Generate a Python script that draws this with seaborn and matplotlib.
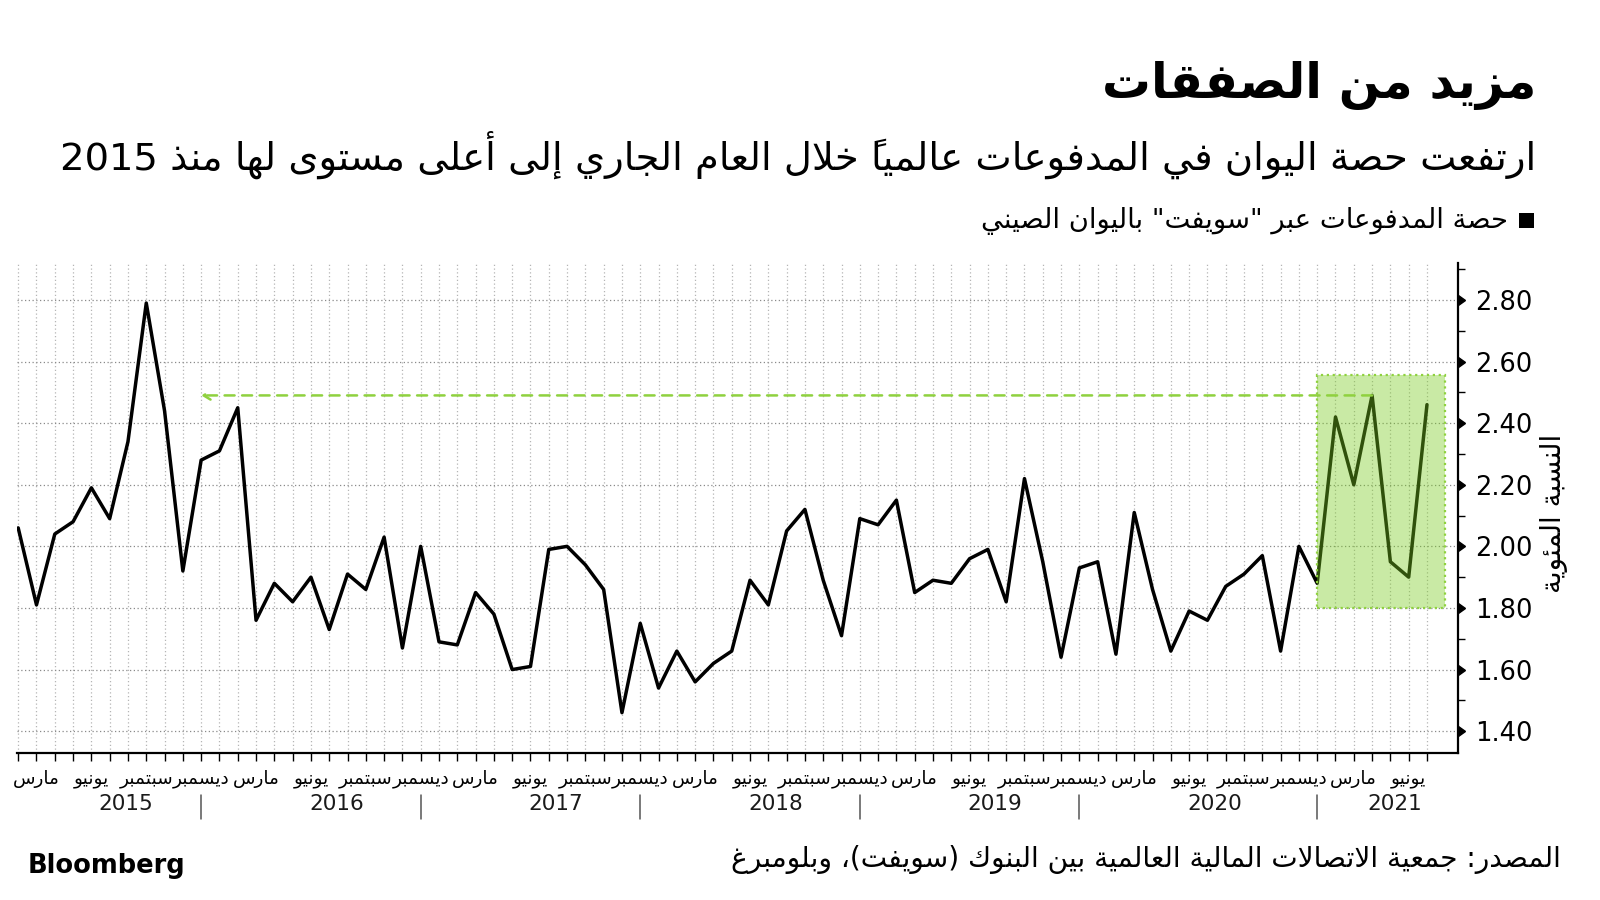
import numpy as np
import pandas as pd
import matplotlib
matplotlib.use("Agg")
import matplotlib.pyplot as plt
import matplotlib.markers as mmarkers
import matplotlib.transforms as mtrans
from matplotlib.patches import Rectangle
import seaborn as sns

# ---------------- data ----------------
# monthly share of CNY in SWIFT payments (%), Jan 2015 .. Jun 2021
share = [2.06, 1.81, 2.04, 2.08, 2.19, 2.09, 2.34, 2.79, 2.44, 1.92, 2.28, 2.31,
         2.45, 1.76, 1.88, 1.82, 1.90, 1.73, 1.91, 1.86, 2.03, 1.67, 2.00, 1.69,
         1.68, 1.85, 1.78, 1.60, 1.61, 1.99, 2.00, 1.94, 1.86, 1.46, 1.75, 1.54,
         1.66, 1.56, 1.62, 1.66, 1.89, 1.81, 2.05, 2.12, 1.89, 1.71, 2.09, 2.07,
         2.15, 1.85, 1.89, 1.88, 1.96, 1.99, 1.82, 2.22, 1.95, 1.64, 1.93, 1.95,
         1.65, 2.11, 1.86, 1.66, 1.79, 1.76, 1.87, 1.91, 1.97, 1.66, 2.00, 1.88,
         2.42, 2.20, 2.49, 1.95, 1.90, 2.46]
first_year = 2015
years = [2015, 2016, 2017, 2018, 2019, 2020, 2021]
quarter_months = [3, 6, 9, 12]
month_names = ["مارس", "يونيو", "سبتمبر", "ديسمبر"]
year_dividers = [10, 22, 34, 46, 58, 71]          # month index of the "|" marks
y_ticks = [1.40, 1.60, 1.80, 2.00, 2.20, 2.40, 2.60, 2.80]
highlight_start, highlight_end = 71, 78            # Dec 2020 .. Jun 2021 box
highlight_low, highlight_high = 1.80, 2.555
peak_idx, ref_idx = 74, 10                         # Mar 2021 level back to end-2015

title = "مزيد من الصفقات"
subtitle = "ارتفعت حصة اليوان في المدفوعات عالمياً خلال العام الجاري إلى أعلى مستوى لها منذ 2015"
legend_label = 'حصة المدفوعات عبر "سويفت" باليوان الصيني'
ylabel = "النسبة المئوية"
source = "المصدر: جمعية الاتصالات المالية العالمية بين البنوك (سويفت)، وبلومبرغ"

# ---------------- minimal Arabic shaping (matplotlib has no text shaping) ----
_JOIN = {}
for cp, first, n in [(0x621, 0xFE80, 1), (0x622, 0xFE81, 2), (0x623, 0xFE83, 2),
                     (0x624, 0xFE85, 2), (0x625, 0xFE87, 2), (0x626, 0xFE89, 4),
                     (0x627, 0xFE8D, 2), (0x628, 0xFE8F, 4), (0x629, 0xFE93, 2),
                     (0x62A, 0xFE95, 4), (0x62B, 0xFE99, 4), (0x62C, 0xFE9D, 4),
                     (0x62D, 0xFEA1, 4), (0x62E, 0xFEA5, 4), (0x62F, 0xFEA9, 2),
                     (0x630, 0xFEAB, 2), (0x631, 0xFEAD, 2), (0x632, 0xFEAF, 2),
                     (0x633, 0xFEB1, 4), (0x634, 0xFEB5, 4), (0x635, 0xFEB9, 4),
                     (0x636, 0xFEBD, 4), (0x637, 0xFEC1, 4), (0x638, 0xFEC5, 4),
                     (0x639, 0xFEC9, 4), (0x63A, 0xFECD, 4), (0x641, 0xFED1, 4),
                     (0x642, 0xFED5, 4), (0x643, 0xFED9, 4), (0x644, 0xFEDD, 4),
                     (0x645, 0xFEE1, 4), (0x646, 0xFEE5, 4), (0x647, 0xFEE9, 4),
                     (0x648, 0xFEED, 2), (0x649, 0xFEEF, 2), (0x64A, 0xFEF1, 4)]:
    _JOIN[chr(cp)] = [chr(first + k) for k in range(n)]
_LAMALEF = {"\u0622": 0xFEF5, "\u0623": 0xFEF7, "\u0625": 0xFEF9, "\u0627": 0xFEFB}
_MIRROR = {"(": ")", ")": "(", "[": "]", "]": "["}


def _is_mark(c):
    return len(c) == 1 and ("\u064B" <= c <= "\u0652" or c == "\u0670")


def ar(text):
    units = []
    i = 0
    while i < len(text):
        c = text[i]
        if c == "\u0644" and i + 1 < len(text) and text[i + 1] in _LAMALEF:
            b = _LAMALEF[text[i + 1]]
            units.append((c + text[i + 1], [chr(b), chr(b + 1)]))
            i += 2
            continue
        units.append((c, _JOIN.get(c)))
        i += 1
    shaped = []
    n = len(units)
    for k, (c, forms) in enumerate(units):
        if forms is None:
            shaped.append(c)
            continue
        p = k - 1
        while p >= 0 and _is_mark(units[p][0]):
            p -= 1
        q = k + 1
        while q < n and _is_mark(units[q][0]):
            q += 1
        prev_join = p >= 0 and units[p][1] is not None and len(units[p][1]) == 4
        next_join = (len(forms) == 4 and q < n and units[q][1] is not None
                     and len(units[q][1]) >= 2)
        if prev_join and next_join:
            f = forms[3]
        elif prev_join:
            f = forms[1] if len(forms) > 1 else forms[0]
        elif next_join:
            f = forms[2]
        else:
            f = forms[0]
        shaped.append(f)
    runs = []
    for ch in shaped:
        ltr = ch.isascii() and (ch.isalnum() or ch in ".%")
        if runs and runs[-1][0] == ltr:
            runs[-1][1].append(ch)
        else:
            runs.append([ltr, [ch]])
    out = []
    for ltr, chs in reversed(runs):
        if ltr:
            out.extend(chs)
        else:
            out.extend(_MIRROR.get(x, x) for x in reversed(chs))
    return "".join(out)


# ---------------- plotting ----------------
sns.set_style("white")
plt.rcParams["font.family"] = ["DejaVu Sans"]
plt.rcParams["text.color"] = "black"
plt.rcParams["xtick.color"] = "black"
plt.rcParams["ytick.color"] = "black"
plt.rcParams["xtick.labelcolor"] = "black"
plt.rcParams["ytick.labelcolor"] = "black"

df = pd.DataFrame({"month": np.arange(len(share)), "share": share})

fig = plt.figure(figsize=(16, 9), dpi=100)
ax = fig.add_axes([0.0108, 0.1633, 0.9005, 0.5445])

sns.lineplot(data=df, x="month", y="share", ax=ax, color="black",
             linewidth=2.5, zorder=2)

GREEN = "#8fd13f"
rect = Rectangle((highlight_start, highlight_low), highlight_end - highlight_start,
                 highlight_high - highlight_low,
                 facecolor=(0.48, 0.80, 0.12, 0.40), edgecolor=GREEN,
                 linestyle=":", linewidth=1.6, zorder=3)
ax.add_patch(rect)

ax.annotate("", xy=(ref_idx, share[peak_idx]), xytext=(peak_idx, share[peak_idx]),
            arrowprops=dict(arrowstyle="->,head_length=0.5,head_width=0.3",
                            color=GREEN, linewidth=1.8, linestyle=(0, (4, 3)),
                            shrinkA=0, shrinkB=0),
            zorder=4)

n = len(share)
ax.set_xlim(-0.05, 78.7)
ax.set_ylim(1.329, 2.92)

# x ticks: every month, labels at quarter starts
q_pos, q_lab = [], []
for y in years:
    for m, name in zip(quarter_months, month_names):
        pos = (y - first_year) * 12 + (m - 1) - 1
        if 0 <= pos < n:
            q_pos.append(pos)
            q_lab.append(ar(name))
xt = list(range(n))
xl = [q_lab[q_pos.index(i)] if i in q_pos else "" for i in xt]
ax.set_xticks(xt)
ax.set_xticklabels(xl, fontsize=13.3)
ax.tick_params(axis="x", which="major", direction="out", length=6, width=1,
               color="black", pad=6, bottom=True)

# y ticks on the right
ax.yaxis.tick_right()
ax.set_yticks(y_ticks)
ax.set_yticklabels([f"{v:.2f}" for v in y_ticks], fontsize=18.5)
ax.set_yticks(np.arange(1.5, 2.95, 0.2), minor=True)
ax.tick_params(axis="y", which="major", length=8, width=1, pad=4, right=True, left=False)
ax.tick_params(axis="y", which="minor", length=5, width=1, direction="out", right=True, left=False)
for t in ax.yaxis.get_major_ticks():
    t.tick2line.set_marker(mmarkers.CARETRIGHTBASE)
    t.tick2line.set_markersize(7)

ax.grid(axis="y", which="major", linestyle=(0, (1, 2)), color="#8a8a8a", linewidth=0.9)
ax.grid(axis="x", which="major", linestyle=(0, (1, 2)), color="#b5b5b5", linewidth=0.9)
ax.set_axisbelow(True)
ax.set_xlabel("")
ax.set_ylabel("")

for s in ["top", "left"]:
    ax.spines[s].set_visible(False)
for s in ["bottom", "right"]:
    ax.spines[s].set_color("black")
    ax.spines[s].set_linewidth(1.6)

# years + dividers under the month labels
trans = mtrans.blended_transform_factory(ax.transData, ax.transAxes)
year_starts = [max((y - first_year) * 12 - 1, 0) for y in years] + [78.7]
for k, y in enumerate(years):
    c = (year_starts[k] + min(year_starts[k + 1], 78.7)) / 2 + 0.4
    ax.text(c, -0.105, str(y), transform=trans, ha="center", va="center",
            fontsize=15.5, color="#1a1a1a")
for d in year_dividers:
    ax.plot([d, d], [-0.085, -0.135], transform=trans, color="#555555",
            linewidth=1.1, clip_on=False)

# y label
fig.text(0.971, 0.43, ar(ylabel), rotation=90, ha="center", va="center", fontsize=20)

# title, subtitle, legend
fig.text(0.96, 0.905, ar(title), ha="right", va="center", fontsize=35,
         fontweight="bold")
fig.text(0.96, 0.828, ar(subtitle), ha="right", va="center", fontsize=27.7)
fig.patches.append(Rectangle((1519 / 1600, 1 - 228 / 900), 15 / 1600, 15 / 900,
                             transform=fig.transFigure, facecolor="black",
                             edgecolor="none"))
fig.text(1508 / 1600, 1 - 221 / 900, ar(legend_label), ha="right", va="center",
         fontsize=19.7)

# footer
fig.text(1561 / 1600, 1 - 860 / 900, ar(source), ha="right", va="center", fontsize=20.2)
fig.text(28 / 1600, 1 - 866 / 900, "Bloomberg", ha="left", va="center",
         fontsize=18.5, fontweight="heavy")

fig.savefig("out.png", dpi=100, facecolor="white")
